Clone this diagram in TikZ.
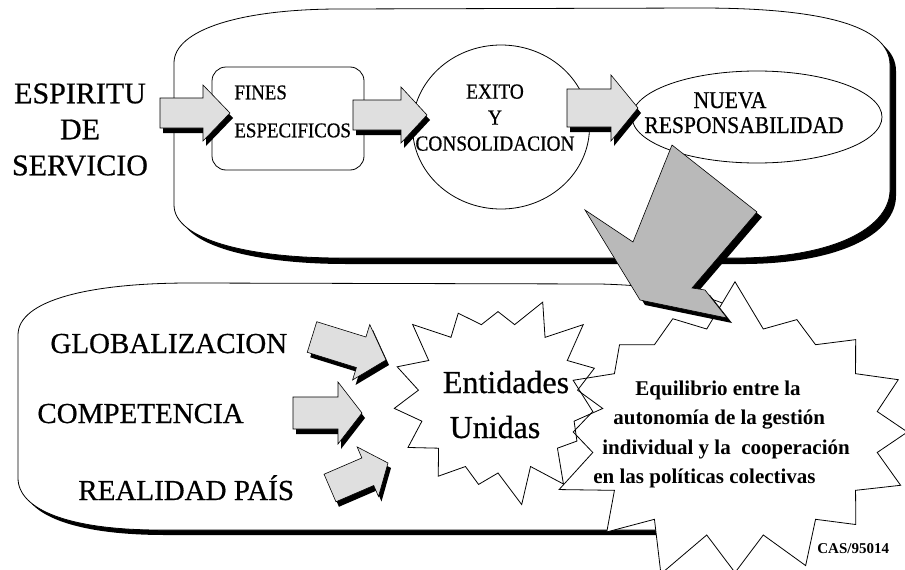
\documentclass[tikz,border=0pt]{standalone}
\usepackage{fontspec}
\setmainfont{Liberation Serif}
\newfontfamily\txtf{Liberation Serif}[FakeBold=0.6]
\newfontfamily\cndf{Liberation Serif}[FakeStretch=0.9,FakeBold=0.6]
\usetikzlibrary{shapes.symbols,shapes.geometric,shadows,calc}
% block arrow from a named tail coordinate to a named tip coordinate
\newcommand\blockarrow[6][]{%
  \coordinate (bxneck) at ($(#3)!#6!(#2)$);
  \path[#1] ($(#2)!#4!90:(#3)$) -- ($(bxneck)!#4!90:(#3)$) -- ($(bxneck)!#5!90:(#3)$)
    -- (#3) -- ($(bxneck)!#5!-90:(#3)$) -- ($(bxneck)!#4!-90:(#3)$) -- ($(#2)!#4!-90:(#3)$) -- cycle;}
\begin{document}
\begin{tikzpicture}[x=1pt,y=-1pt,line width=0.8pt,
  boxshadow/.style={drop shadow={shadow xshift=6pt,shadow yshift=-6pt,fill=black,opacity=1}},
  blk/.style={draw=black, fill=gray!25, line width=0.6pt, line join=miter,
    drop shadow={shadow xshift=3pt,shadow yshift=-5pt,fill=black,opacity=1}},
  lbl/.style={inner sep=0pt},
  big/.style={font=\txtf\fontsize{30}{36}\selectfont},
  mid/.style={font=\txtf\fontsize{29}{34}\selectfont},
  eq/.style={inner sep=0pt, anchor=base west, font=\fontsize{21}{25}\selectfont\bfseries}
]
\useasboundingbox (0,0) rectangle (905,570);
\fill[white] (0,0) rectangle (905,570);

% upper frame
\path[boxshadow, fill=white, draw=black]
  (174,63) .. controls (174,30) and (240,9) .. (340,9) -- (700,8)
  .. controls (820,8) and (890,25) .. (890,65) -- (890,190)
  .. controls (890,225) and (840,257) .. (740,258) -- (340,258)
  .. controls (250,258) and (174,240) .. (174,205) -- cycle;

\node[draw, fill=white, rounded corners=14pt, minimum width=152pt, minimum height=103pt, inner sep=0pt] (finesbox) at (288,118.5) {};
\node[draw, fill=white, ellipse, minimum width=177pt, minimum height=164pt, inner sep=0pt] (exito) at (501,127) {};
\node[draw, fill=white, ellipse, minimum width=250pt, minimum height=92pt, inner sep=0pt] (nueva) at (757,117) {};

% arrow end points
\coordinate (a1t) at (160,113); \coordinate (a1h) at (230,113);
\coordinate (a2t) at (353,115); \coordinate (a2h) at (427,115);
\coordinate (a3t) at (567,108); \coordinate (a3h) at (638,108);
\blockarrow[blk]{a1t}{a1h}{15pt}{28pt}{27pt}
\blockarrow[blk]{a2t}{a2h}{15pt}{28pt}{26pt}
\blockarrow[blk]{a3t}{a3h}{19pt}{33pt}{27pt}

% lower frame
\path[drop shadow={shadow xshift=5pt,shadow yshift=-5pt,fill=black,opacity=1}, fill=white, draw=black]
  (18,335) .. controls (18,300) and (90,283) .. (190,283) -- (600,284)
  .. controls (680,286) and (740,300) .. (760,330) -- (760,480)
  .. controls (760,515) and (740,530) .. (700,530) -- (160,530)
  .. controls (70,530) and (18,510) .. (18,478) -- cycle;

\node[starburst, draw, fill=white, starburst points=16, starburst point height=50pt, minimum width=390pt, minimum height=310pt, random starburst=7, inner sep=0pt] (equil) at (735,432) {};
\node[starburst, draw, starburst points=15, starburst point height=36pt, minimum width=232pt, minimum height=222pt, random starburst=3, inner sep=0pt] (entid) at (498,398) {};

% big arrow
\path[fill=gray!55, draw=black, line width=0.6pt, drop shadow={shadow xshift=5pt,shadow yshift=-5pt,fill=black,opacity=1}]
  (672,145) -- (757,212) -- (692,288) -- (705,290) -- (727,318) -- (640,300) -- (585,210) -- (633,242) -- cycle;

\coordinate (b1t) at (312,337); \coordinate (b1h) at (386,360);
\coordinate (b2t) at (293,413); \coordinate (b2h) at (362,413);
\coordinate (b3t) at (330,488); \coordinate (b3h) at (388,463);
\blockarrow[blk]{b1t}{b1h}{16pt}{29pt}{26pt}
\blockarrow[blk]{b2t}{b2h}{16pt}{31pt}{24pt}
\blockarrow[blk]{b3t}{b3h}{15pt}{27pt}{22pt}

% texts
\node[lbl, big, align=center, anchor=north] (esp) at (80,83) {ESPIRITU\\DE\\SERVICIO};
\node[lbl, font=\cndf\fontsize{21}{38}\selectfont, align=left, anchor=north west] (finest) at (234,85) {FINES\\ESPECIFICOS};
\node[lbl, font=\cndf\fontsize{21.5}{26}\selectfont, align=center, anchor=north] (exitot) at (495,84) {EXITO\\Y\\CONSOLIDACION};
\node[lbl, font=\cndf\fontsize{24}{28}\selectfont, anchor=base] (nuevat) at (730,108) {NUEVA};
\node[lbl, font=\cndf\fontsize{24}{28}\selectfont, anchor=base] (respt) at (744,133) {RESPONSABILIDAD};

\node[lbl, mid, anchor=base west] (glob) at (50,353) {GLOBALIZACION};
\node[lbl, mid, anchor=base west] (comp) at (37,423) {COMPETENCIA};
\node[lbl, mid, anchor=base west] (real) at (78,500) {REALIDAD PAÍS};

\node[lbl, font=\txtf\fontsize{32}{38}\selectfont, anchor=base] (ent1) at (506,393) {Entidades};
\node[lbl, font=\txtf\fontsize{32}{38}\selectfont, anchor=base] (ent2) at (495,438) {Unidas};

\node[eq] (eq1) at (635,395) {Equilibrio entre la};
\node[eq] (eq2) at (613,424) {autonomía de la gestión};
\node[eq] (eq3) at (602,454) {individual y la~~cooperación};
\node[eq] (eq4) at (593,483) {en las políticas colectivas};
\node[inner sep=0pt, anchor=base west, font=\fontsize{15}{18}\selectfont\bfseries] (cas) at (817,553) {CAS/95014};
\end{tikzpicture}
\end{document}
